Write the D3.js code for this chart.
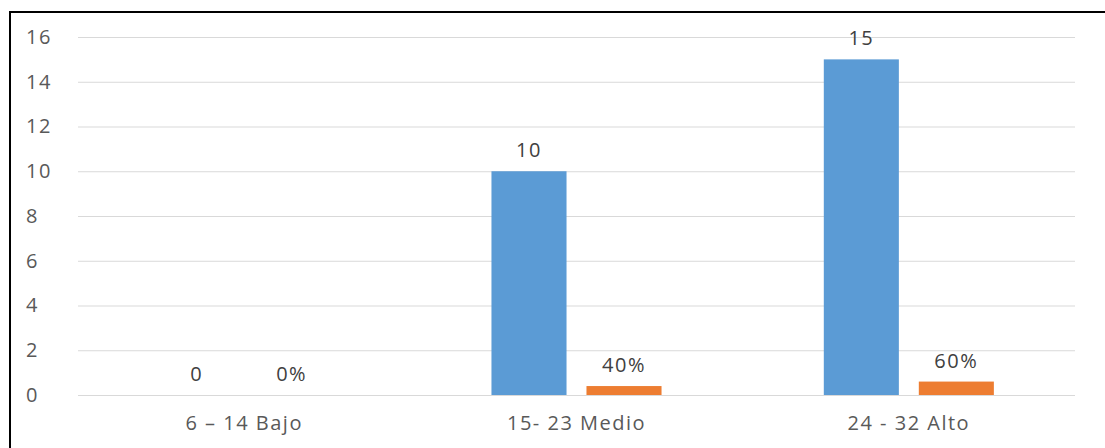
<!DOCTYPE html>
<html><head><meta charset="utf-8">
<script src="https://cdn.jsdelivr.net/npm/d3@7"></script>
<style>body{margin:0;background:#fff}svg{display:block}</style>
</head><body>
<svg id="c" width="1105" height="448"></svg>
<script>
const categories = ["6 – 14 Bajo", "15- 23 Medio", "24 - 32 Alto"];
const countValues = [0, 10, 15];
const percentValues = [0, 0.4, 0.6];
const countLabels = ["0", "10", "15"];
const percentLabels = ["0%", "40%", "60%"];
const yTicks = [0, 2, 4, 6, 8, 10, 12, 14, 16];

(function () {
const svg = d3.select("#c");
const mLeft = 78, mRight = 1075, mTop = 37, mBottom = 395;

svg.append("rect").attr("x", 10).attr("y", 12).attr("width", 1100).attr("height", 440)
  .attr("fill", "#fff").attr("stroke", "#000").attr("stroke-width", 2);

const x = d3.scaleBand().domain(categories).range([mLeft, mRight]).paddingInner(0).paddingOuter(0);
const y = d3.scaleLinear().domain([0, 16]).range([mBottom, mTop]);
const series = ["count", "pct"];
const x1 = d3.scaleBand().domain(series).range([0, x.bandwidth()]).paddingInner(0.21).paddingOuter(0.854);

const font = "'Open Sans', sans-serif";
const txt = "#595959";
const fs = 20;
const ls = "1.5px";

svg.append("g").selectAll("line").data(yTicks).join("line")
  .attr("x1", mLeft).attr("x2", mRight)
  .attr("y1", d => y(d) + 0.5).attr("y2", d => y(d) + 0.5)
  .attr("stroke", "#d9d9d9").attr("stroke-width", 1);

const yAxis = d3.axisLeft(y).tickValues(yTicks).tickSize(0).tickPadding(0);
const gy = svg.append("g").attr("transform", "translate(26,0)").call(yAxis);
gy.select(".domain").remove();
gy.selectAll("text").attr("font-family", font).attr("font-size", fs).attr("fill", txt)
  .attr("text-anchor", "start").attr("x", 0).attr("letter-spacing", ls);

const xAxis = d3.axisBottom(x).tickSize(0).tickPadding(0);
const gx = svg.append("g").attr("transform", `translate(0,${mBottom})`).call(xAxis);
gx.select(".domain").remove();
gx.selectAll("text").attr("font-family", font).attr("font-size", fs).attr("fill", txt)
  .attr("y", 35).attr("dy", 0).attr("letter-spacing", ls);

const data = categories.map((c, i) => ({c, count: countValues[i], pct: percentValues[i], cl: countLabels[i], pl: percentLabels[i]}));

const g = svg.append("g").selectAll("g").data(data).join("g")
  .attr("transform", d => `translate(${x(d.c)},0)`);

g.append("rect").attr("x", x1("count")).attr("width", x1.bandwidth())
  .attr("y", d => y(d.count)).attr("height", d => y(0) - y(d.count)).attr("fill", "#5b9bd5");
g.append("rect").attr("x", x1("pct")).attr("width", x1.bandwidth())
  .attr("y", d => y(d.pct)).attr("height", d => y(0) - y(d.pct)).attr("fill", "#ed7d31");

g.append("text").attr("x", x1("count") + x1.bandwidth() / 2).attr("y", d => y(d.count) - 14)
  .attr("text-anchor", "middle").attr("font-family", font).attr("font-size", fs).attr("fill", "#404040")
  .attr("letter-spacing", ls).text(d => d.cl);
g.append("text").attr("x", x1("pct") + x1.bandwidth() / 2).attr("y", d => y(d.pct) - 14)
  .attr("text-anchor", "middle").attr("font-family", font).attr("font-size", fs).attr("fill", "#404040")
  .attr("letter-spacing", ls).text(d => d.pl);
})();
</script>
</body></html>
